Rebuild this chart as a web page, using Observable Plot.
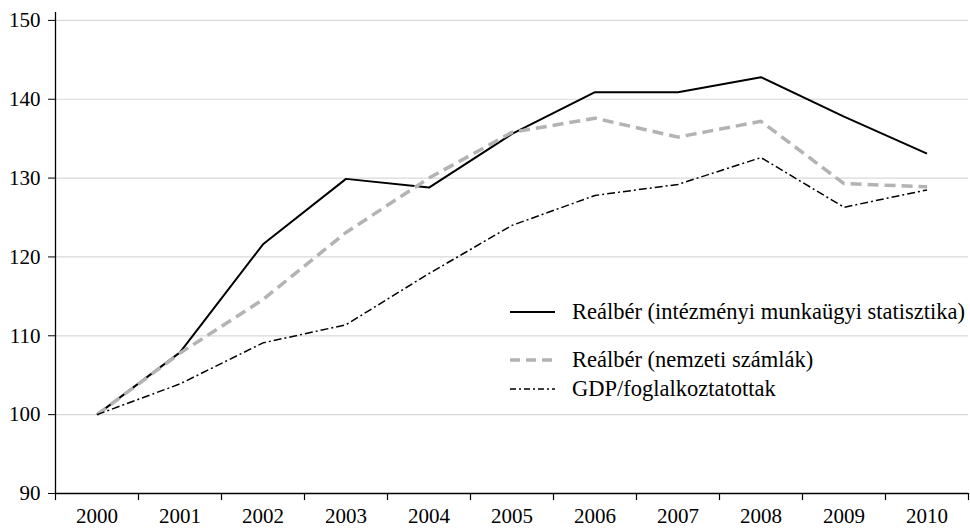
<!DOCTYPE html>
<html>
<head>
<meta charset="utf-8">
<script src="https://cdn.jsdelivr.net/npm/d3@7"></script>
<script src="https://cdn.jsdelivr.net/npm/@observablehq/plot@0.6"></script>
<style>
  html, body { margin: 0; padding: 0; background: #fff; }
  #wrap { position: relative; width: 970px; height: 529px; font-family: "Liberation Serif", "Times New Roman", serif; }
  .leg { position: absolute; left: 510px; height: 26px; line-height: 26px; font-size: 22.5px; color: #000; white-space: nowrap; display: flex; align-items: center; }
  .leg svg { display: block; margin-right: 17px; }
</style>
</head>
<body>
<div id="wrap"></div>
<script>
const years = [2000, 2001, 2002, 2003, 2004, 2005, 2006, 2007, 2008, 2009, 2010];
const seriesNames = [
  "Reálbér (intézményi munkaügyi statisztika)",
  "Reálbér (nemzeti számlák)",
  "GDP/foglalkoztatottak"
];
const realberIntezmenyi = [100, 107.9, 121.6, 129.9, 128.8, 135.6, 140.9, 140.9, 142.8, 137.8, 133.1];
const realberNemzeti    = [100, 107.8, 114.6, 123.1, 130.0, 135.8, 137.6, 135.2, 137.2, 129.3, 128.9];
const gdpPerEmployed    = [100, 103.9, 109.1, 111.4, 117.9, 124.0, 127.8, 129.2, 132.6, 126.3, 128.5];
const yTicks = [90, 100, 110, 120, 130, 140, 150];

const styles = [
  {stroke: "#000000", strokeWidth: 2, dash: null},
  {stroke: "#b3b3b3", strokeWidth: 3.5, dash: "11,6"},
  {stroke: "#000000", strokeWidth: 1.5, dash: "8,3,2,3"}
];
const allSeries = [realberIntezmenyi, realberNemzeti, gdpPerEmployed];
const data = allSeries.flatMap((vals, i) => years.map((yr, j) => ({year: yr, value: vals[j], series: seriesNames[i]})));
const boundaries = years.map(y => y - 0.5).concat([years[years.length - 1] + 0.5]);

const marks = [
  Plot.gridY({ticks: yTicks, stroke: "#d9d9d9", strokeOpacity: 1, strokeWidth: 1.2}),
  Plot.ruleY([90], {stroke: "#000", strokeWidth: 1.3}),
  Plot.ruleX([boundaries[0]], {y1: 90, y2: 151, stroke: "#000", strokeWidth: 1.3}),
  Plot.ruleX(boundaries, {y1: 90, y2: 89.1, stroke: "#000", strokeWidth: 1.2}),
  Plot.axisY({ticks: yTicks, tickSize: 7, tickPadding: 8, tickFormat: d => String(d), fontSize: 21, label: null}),
  Plot.axisX({ticks: years, tickSize: 0, tickPadding: 15, tickFormat: d => String(d), fontSize: 21, label: null})
];
seriesNames.forEach((name, i) => {
  marks.push(Plot.line(data.filter(d => d.series === name), {
    x: "year", y: "value",
    stroke: styles[i].stroke, strokeWidth: styles[i].strokeWidth,
    strokeDasharray: styles[i].dash, strokeLinejoin: "miter", strokeLinecap: "butt"
  }));
});

const chart = Plot.plot({
  width: 970,
  height: 529,
  marginLeft: 55,
  marginRight: 2,
  marginTop: 12,
  marginBottom: 36,
  style: {fontFamily: "'Liberation Serif', 'Times New Roman', serif", fontSize: "21px", color: "#000", background: "#fff", overflow: "visible"},
  x: {domain: [1999.5, 2010.5], axis: null},
  y: {domain: [90, 151], axis: null},
  marks
});
const wrap = document.getElementById("wrap");
wrap.appendChild(chart);

const legendY = [312, 360, 389];
seriesNames.forEach((name, i) => {
  const row = document.createElement("div");
  row.className = "leg";
  row.style.top = (legendY[i] - 13) + "px";
  const s = styles[i];
  row.innerHTML = `<svg width="45" height="26"><line x1="0" x2="45" y1="13" y2="13" stroke="${s.stroke}" stroke-width="${s.strokeWidth}" ${s.dash ? `stroke-dasharray="${i === 1 ? "10,6" : "6,3,2,3"}"` : ""}/></svg><span>${name}</span>`;
  wrap.appendChild(row);
});
</script>
</body>
</html>
